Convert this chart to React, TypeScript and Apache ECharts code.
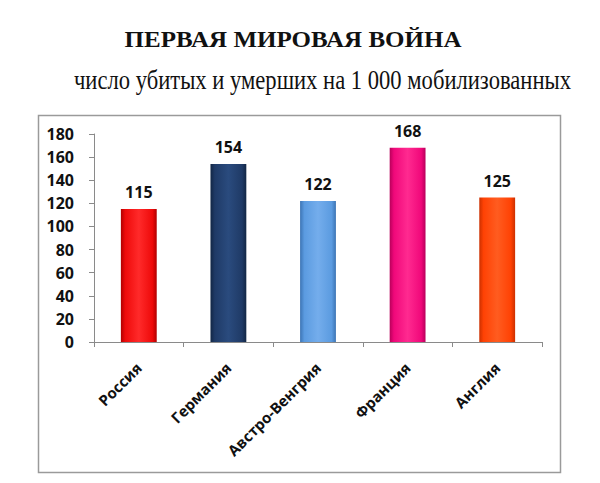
import React, { useEffect, useRef } from "react";
import * as echarts from "echarts";

const titleText = "ПЕРВАЯ МИРОВАЯ ВОЙНА";
const subtitleText = "число убитых и умерших на 1 000 мобилизованных";
const categories = ["Россия", "Германия", "Австро-Венгрия", "Франция", "Англия"];
const values = [115, 154, 122, 168, 125];
const baseColors = ["#ee0a0a", "#1f3a66", "#5b9be0", "#f0087a", "#ff4204"];
const lightColors = ["#ff2a2a", "#2a4b7e", "#74adec", "#ff2a90", "#ff5c20"];
const darkColors = ["#b00000", "#122644", "#3c74b4", "#b8005a", "#cc3000"];

const serif = "'Liberation Serif', 'Times New Roman', 'DejaVu Serif', serif";
const sans = "'Open Sans', 'Noto Sans', sans-serif";

export default function App() {
  const ref = useRef<HTMLDivElement>(null);
  useEffect(() => {
    document.body.style.margin = "0";
    const chart = echarts.init(ref.current!, null, { renderer: "svg" });
    const data = values.map((v, i) => ({
      value: v,
      itemStyle: {
        color: new echarts.graphic.LinearGradient(0, 0, 1, 0, [
          { offset: 0, color: darkColors[i] },
          { offset: 0.12, color: baseColors[i] },
          { offset: 0.5, color: lightColors[i] },
          { offset: 0.88, color: baseColors[i] },
          { offset: 1, color: darkColors[i] },
        ]),
      },
    }));
    chart.setOption({
      animation: false,
      backgroundColor: "#ffffff",
      graphic: [
        {
          type: "rect",
          shape: { x: 38.5, y: 115.5, width: 522, height: 357 },
          style: { fill: "none", stroke: "#9a9a9a", lineWidth: 1.5 },
          z: -1,
        },
        {
          type: "text",
          x: 293,
          y: 39,
          scaleY: 0.95,
          style: {
            text: titleText,
            fontFamily: serif,
            fontWeight: "bold",
            fontSize: 25,
            fill: "#111",
            textAlign: "center",
            textVerticalAlign: "middle",
          },
        },
        {
          type: "text",
          x: 322.5,
          y: 79.5,
          scaleY: 1.2,
          style: {
            text: subtitleText,
            fontFamily: serif,
            fontWeight: "normal",
            fontSize: 22.6,
            fill: "#111",
            textAlign: "center",
            textVerticalAlign: "middle",
          },
        },
      ],
      grid: { left: 94, right: 58, top: 134, bottom: 141, containLabel: false },
      xAxis: {
        type: "category",
        data: categories,
        boundaryGap: true,
        axisLine: { lineStyle: { color: "#8a8a8a", width: 1 } },
        axisTick: { show: true, alignWithLabel: false, length: 5, lineStyle: { color: "#8a8a8a" } },
        axisLabel: {
          rotate: 45,
          margin: 23,
          fontFamily: sans,
          fontWeight: "bold",
          fontSize: 15,
          color: "#111",
          interval: 0,
        },
      },
      yAxis: {
        type: "value",
        min: 0,
        max: 180,
        interval: 20,
        splitLine: { show: false },
        axisLine: { show: true, lineStyle: { color: "#8a8a8a", width: 1 } },
        axisTick: { show: true, length: 5, lineStyle: { color: "#8a8a8a" } },
        axisLabel: {
          margin: 20,
          fontFamily: sans,
          fontWeight: "bold",
          fontSize: 16,
          color: "#111",
        },
      },
      series: [
        {
          type: "bar",
          data,
          barWidth: "40%",
          label: {
            show: true,
            position: "top",
            distance: 9,
            fontFamily: sans,
            fontWeight: "bold",
            fontSize: 16,
            color: "#111",
          },
        },
      ],
    });
    return () => chart.dispose();
  }, []);
  return (
    <div
      ref={ref}
      style={{ position: "absolute", left: 0, top: 0, width: 600, height: 483 }}
    />
  );
}
